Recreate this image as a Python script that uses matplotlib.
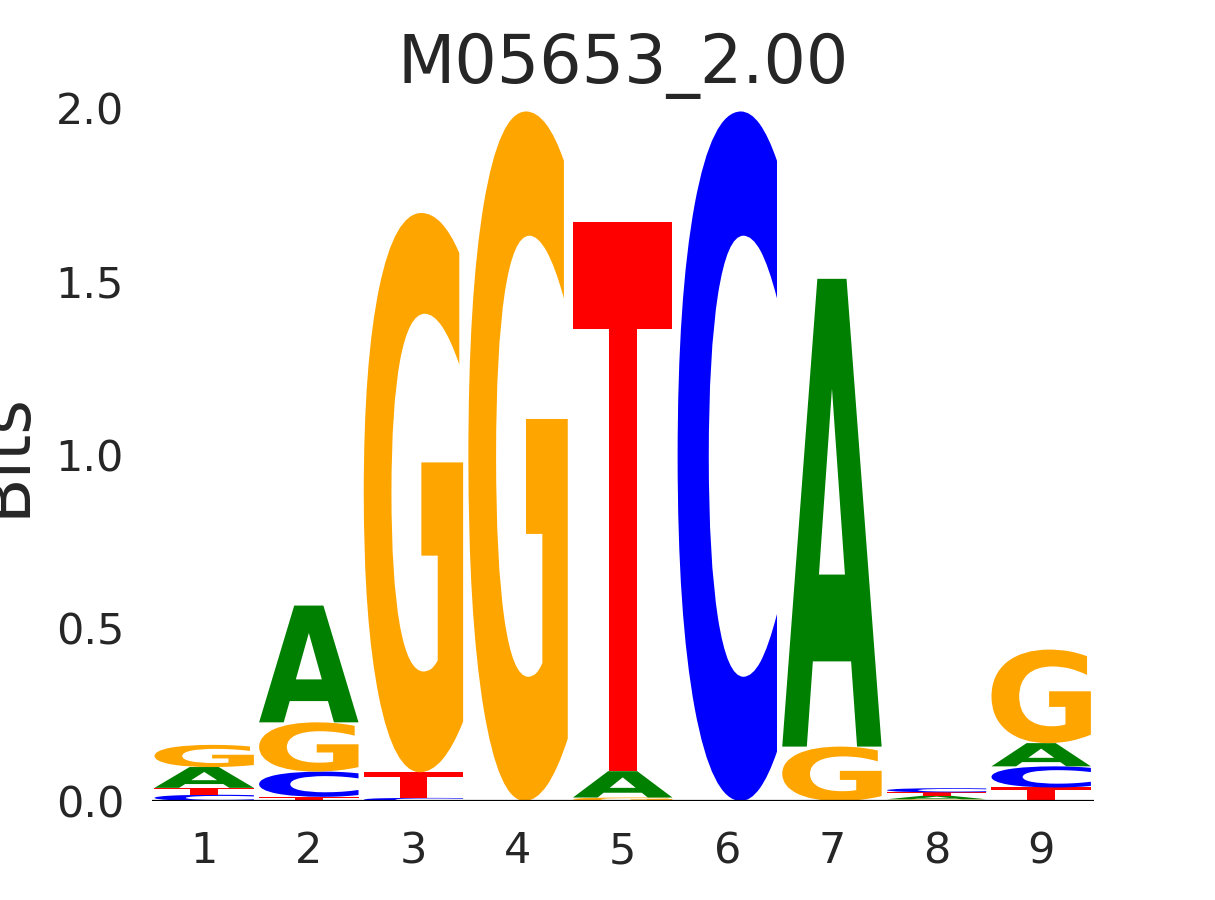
import matplotlib
matplotlib.use("Agg")
import matplotlib.pyplot as plt
from matplotlib.textpath import TextPath
from matplotlib.patches import PathPatch
from matplotlib.font_manager import FontProperties
from matplotlib.transforms import Affine2D

# Data: information (bits) per letter at each position
positions = [1, 2, 3, 4, 5, 6, 7, 8, 9]
bits_A = [0.060, 0.337, 0.000, 0.000, 0.076, 0.000, 1.350, 0.010, 0.067]
bits_C = [0.018, 0.073, 0.009, 0.000, 0.000, 1.990, 0.000, 0.012, 0.061]
bits_G = [0.064, 0.142, 1.614, 1.990, 0.010, 0.000, 0.157, 0.005, 0.270]
bits_T = [0.020, 0.012, 0.074, 0.000, 1.585, 0.000, 0.000, 0.010, 0.039]
title = "M05653_2.00"
ytick_vals = [0.0, 0.5, 1.0, 1.5, 2.0]

colors = {"A": "#008000", "C": "#0000ff", "G": "#ffa500", "T": "#ff0000"}
text_color = "#262626"

fig = plt.figure(figsize=(12.15, 9), dpi=100)
ax = fig.add_subplot(111)

fp = FontProperties(family="DejaVu Sans", weight="bold")
width = 0.95

def draw_letter(ch, x, y0, h):
    if h <= 0:
        return
    tp = TextPath((0, 0), ch, size=1, prop=fp)
    ext = tp.get_extents()
    sx = width / ext.width
    sy = h / ext.height
    tr = (Affine2D().translate(-ext.x0, -ext.y0)
          .scale(sx, sy)
          .translate(x - width / 2, y0))
    path = tr.transform_path(tp)
    ax.add_patch(PathPatch(path, facecolor=colors[ch], edgecolor="none", lw=0))

data = {"A": bits_A, "C": bits_C, "G": bits_G, "T": bits_T}
for i, pos in enumerate(positions):
    vals = sorted([(data[k][i], k) for k in "ACGT"], key=lambda t: t[0])
    y = 0.0
    for v, k in vals:
        draw_letter(k, pos, y, v)
        y += v

ax.axhline(0, color="black", lw=1.6)
ax.set_xlim(0.5, 9.5)
ax.set_ylim(0, 2.0)
for s in ax.spines.values():
    s.set_visible(False)
ax.set_xticks(positions)
ax.set_xticklabels([str(p) for p in positions])
ax.set_yticks(ytick_vals)
ax.set_yticklabels([f"{v:.1f}" for v in ytick_vals])
ax.tick_params(axis="x", length=0, pad=21, labelsize=31, labelcolor=text_color)
ax.tick_params(axis="y", length=0, pad=20, labelsize=31, labelcolor=text_color)
ax.set_title(title, fontsize=48, color=text_color, pad=18)
ax.set_ylabel("Bits", fontsize=48, color=text_color)
ax.yaxis.set_label_coords(-0.12, 0.5)

fig.savefig("out.png", dpi=100)
